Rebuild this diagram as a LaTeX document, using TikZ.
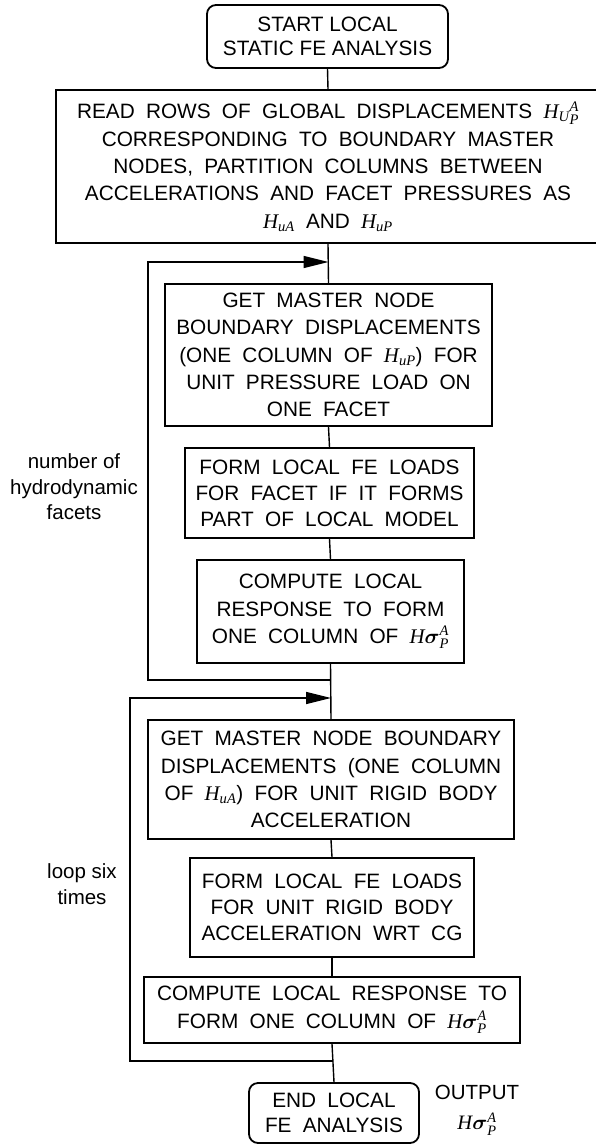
\documentclass[tikz,border=0pt]{standalone}
\usepackage{amsmath}
\usepackage{fontspec}
\setmainfont{Liberation Sans}
\newfontfamily\sitf{Liberation Serif}
\usetikzlibrary{arrows.meta}
\newcommand\ti[1]{\text{\sitf\itshape #1}}
\newcommand\HuPA{$\ti{H}_{\ti{U}}{}^{\ti{A}}_{\ti{P}}$}
\newcommand\HuAm{$\ti{H}_{\ti{uA}}$}
\newcommand\HuPm{$\ti{H}_{\ti{uP}}$}
\newcommand\Hsig{$\ti{H}\boldsymbol{\sigma}^{\ti{A}}_{\ti{P}}$}
\newcommand\bfont[1]{\fontsize{20.8}{#1}\selectfont\spaceskip=0.54em plus 0.1em\relax}
\tikzset{
  pbox/.style={draw, line width=1.8pt, inner sep=0pt, align=center,
    font=\bfont{27.3}},
  rbox/.style={draw, line width=1.8pt, inner sep=0pt, align=center,
    rounded corners=9pt, font=\fontsize{20.8}{24.5}\selectfont},
  conn/.style={line width=1.4pt},
  lbl/.style={align=center, inner sep=0pt, font=\fontsize{20.5}{25.5}\selectfont},
  tip/.style={-{Triangle[length=25pt,width=12pt]}}
}
\begin{document}
\begin{tikzpicture}[x=1pt,y=-1pt]
\useasboundingbox (0,0) rectangle (595,1145);
\node[rbox, minimum width=241pt, minimum height=63pt] (start) at (327.5,36.5)
  {START LOCAL\\STATIC FE ANALYSIS};
\node[pbox, minimum width=544pt, minimum height=153pt] (read) at (328,166.5)
  {READ ROWS OF GLOBAL DISPLACEMENTS \HuPA\\
   CORRESPONDING TO BOUNDARY MASTER\\
   NODES, PARTITION COLUMNS BETWEEN\\
   ACCELERATIONS AND FACET PRESSURES AS\\
   \HuAm{} AND \HuPm};
\node[pbox, minimum width=327pt, minimum height=142pt] (get1) at (328.5,355)
  {GET MASTER NODE\\BOUNDARY DISPLACEMENTS\\(ONE COLUMN OF \HuPm) FOR\\UNIT PRESSURE LOAD ON\\ONE FACET};
\node[pbox, minimum width=289pt, minimum height=90pt, font=\bfont{26}] (form1) at (329.5,493)
  {FORM LOCAL FE LOADS\\FOR FACET IF IT FORMS\\PART OF LOCAL MODEL};
\node[pbox, minimum width=267pt, minimum height=103pt] (comp1) at (330.5,611.5)
  {COMPUTE LOCAL\\RESPONSE TO FORM\\ONE COLUMN OF \Hsig};
\node[pbox, minimum width=366pt, minimum height=119pt] (get2) at (331,779.5)
  {GET MASTER NODE BOUNDARY\\DISPLACEMENTS (ONE COLUMN\\OF \HuAm) FOR UNIT RIGID BODY\\ACCELERATION};
\node[pbox, minimum width=284pt, minimum height=99pt, font=\bfont{25.7}] (form2) at (332,907.5)
  {FORM LOCAL FE LOADS\\FOR UNIT RIGID BODY\\ACCELERATION WRT CG};
\node[pbox, minimum width=376pt, minimum height=66pt] (comp2) at (332,1010)
  {COMPUTE LOCAL RESPONSE TO\\FORM ONE COLUMN OF \Hsig};
\node[rbox, minimum width=170pt, minimum height=60pt, font=\bfont{25}] (end) at (334,1113)
  {END LOCAL\\FE ANALYSIS};
% main connectors
\draw[conn] (start.south) -- (read.north);
\draw[conn] (read.south) -- (get1.north);
\draw[conn] (get1.south) -- (form1.north);
\draw[conn] (form1.south) -- (comp1.north);
\draw[conn] (comp1.south) -- (get2.north);
\draw[conn] (get2.south) -- (form2.north);
\draw[conn] (form2.south) -- (comp2.north);
\draw[conn] (comp2.south) -- (end.north);
% loop 1
\coordinate (j1) at (330.5,680);
\coordinate (l1) at (148,262);
\coordinate (a1) at (328.5,262);
\draw[conn,tip] (j1) -| (l1) -- (a1);
% loop 2
\coordinate (j2) at (333,1061);
\coordinate (l2) at (130,698);
\coordinate (a2) at (331,698);
\draw[conn,tip] (j2) -| (l2) -- (a2);
% labels
\node[lbl] (lab1) at (74,487) {number of\\hydrodynamic\\facets};
\node[lbl] (lab2) at (82,884) {loop six\\times};
\node[lbl] (out) at (477,1110) {OUTPUT\\[5pt]\Hsig};
\end{tikzpicture}
\end{document}
